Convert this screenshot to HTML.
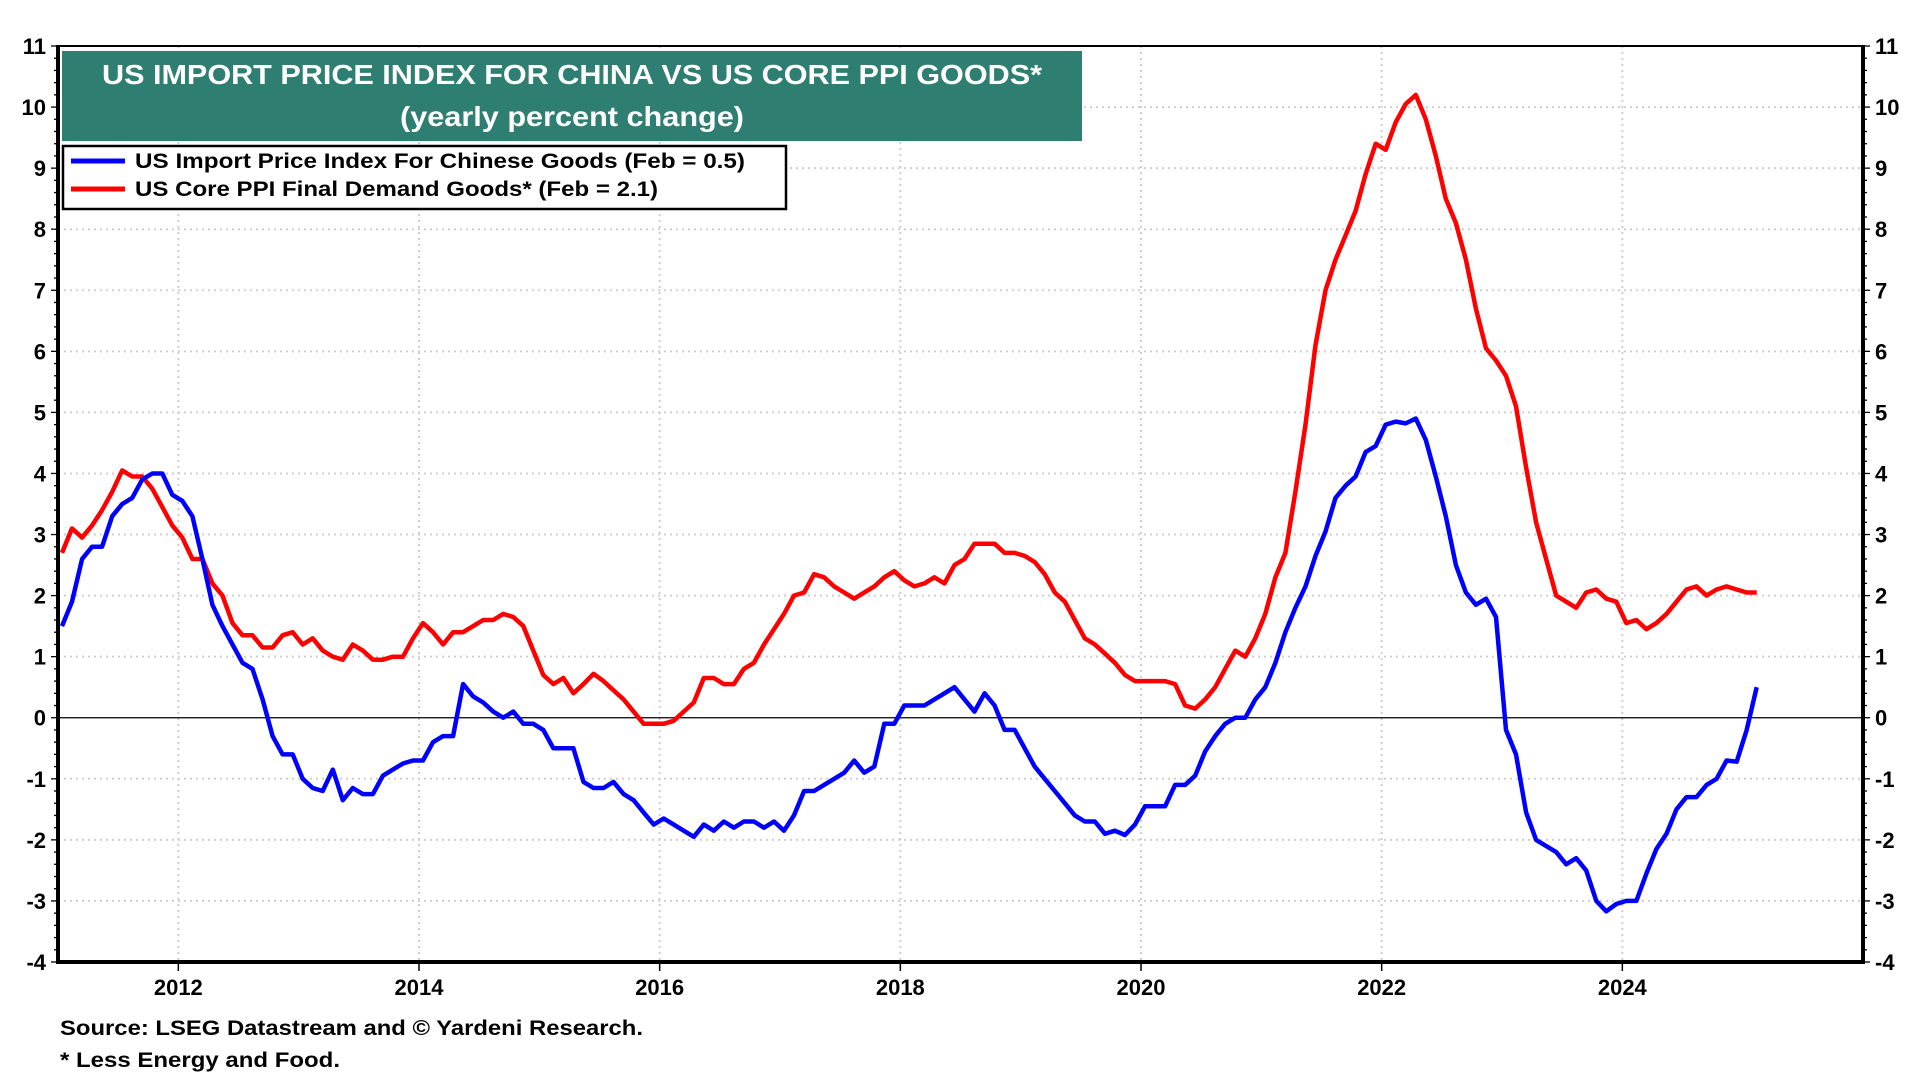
<!DOCTYPE html>
<html><head><meta charset="utf-8"><style>
html,body{margin:0;padding:0;background:#fff;}
svg{display:block;font-family:"Liberation Sans",Arial,sans-serif;font-weight:bold;}
</style></head><body>
<svg id="chart" width="1920" height="1080" viewBox="0 0 1920 1080" xmlns="http://www.w3.org/2000/svg"></svg>
<script>
const startYear = 2011;
const importChina = [
1.5,1.9,2.6,2.8,2.8,3.3,3.5,3.6,3.9,4.0,4.0,3.65,
3.55,3.3,2.6,1.85,1.5,1.2,0.9,0.8,0.3,-0.3,-0.6,-0.6,
-1.0,-1.15,-1.2,-0.85,-1.35,-1.15,-1.25,-1.25,-0.95,-0.85,-0.75,-0.7,
-0.7,-0.4,-0.3,-0.3,0.55,0.35,0.25,0.1,0.0,0.1,-0.1,-0.1,
-0.2,-0.5,-0.5,-0.5,-1.05,-1.15,-1.15,-1.05,-1.25,-1.35,-1.55,-1.75,
-1.65,-1.75,-1.85,-1.95,-1.75,-1.85,-1.7,-1.8,-1.7,-1.7,-1.8,-1.7,
-1.85,-1.6,-1.2,-1.2,-1.1,-1.0,-0.9,-0.7,-0.9,-0.8,-0.1,-0.1,
0.2,0.2,0.2,0.3,0.4,0.5,0.3,0.1,0.4,0.2,-0.2,-0.2,
-0.5,-0.8,-1.0,-1.2,-1.4,-1.6,-1.7,-1.7,-1.9,-1.85,-1.92,-1.75,
-1.45,-1.45,-1.45,-1.1,-1.1,-0.95,-0.55,-0.3,-0.1,0.0,0.0,0.3,
0.5,0.9,1.4,1.8,2.15,2.65,3.05,3.6,3.8,3.95,4.35,4.45,
4.8,4.85,4.82,4.9,4.55,3.95,3.3,2.5,2.05,1.85,1.95,1.65,
-0.2,-0.6,-1.55,-2.0,-2.1,-2.2,-2.4,-2.3,-2.5,-3.0,-3.17,-3.05,
-3.0,-3.0,-2.55,-2.15,-1.9,-1.5,-1.3,-1.3,-1.1,-1.0,-0.7,-0.72,
-0.2,0.5];
const corePPI = [
2.7,3.1,2.95,3.15,3.4,3.7,4.05,3.95,3.95,3.75,3.45,3.15,
2.95,2.6,2.6,2.2,2.0,1.55,1.35,1.35,1.15,1.15,1.35,1.4,
1.2,1.3,1.1,1.0,0.95,1.2,1.1,0.95,0.95,1.0,1.0,1.3,
1.55,1.4,1.2,1.4,1.4,1.5,1.6,1.6,1.7,1.65,1.5,1.1,
0.7,0.55,0.65,0.4,0.55,0.72,0.6,0.45,0.3,0.1,-0.1,-0.1,
-0.1,-0.05,0.1,0.25,0.65,0.65,0.55,0.55,0.8,0.9,1.2,1.45,
1.7,2.0,2.05,2.35,2.3,2.15,2.05,1.95,2.05,2.15,2.3,2.4,
2.25,2.15,2.2,2.3,2.2,2.5,2.6,2.85,2.85,2.85,2.7,2.7,
2.65,2.55,2.35,2.05,1.9,1.6,1.3,1.2,1.05,0.9,0.7,0.6,
0.6,0.6,0.6,0.55,0.2,0.15,0.3,0.5,0.8,1.1,1.0,1.3,
1.7,2.3,2.7,3.7,4.8,6.1,7.0,7.5,7.9,8.3,8.9,9.4,
9.3,9.75,10.05,10.2,9.8,9.2,8.5,8.1,7.5,6.7,6.05,5.85,
5.6,5.1,4.1,3.2,2.6,2.0,1.9,1.8,2.05,2.1,1.95,1.9,
1.55,1.6,1.45,1.55,1.7,1.9,2.1,2.15,2.0,2.1,2.15,2.1,
2.05,2.05];
const yTicks = [-4,-3,-2,-1,0,1,2,3,4,5,6,7,8,9,10,11];
const xTickYears = [2012,2014,2016,2018,2020,2022,2024];

const L=58, R=1863, T=46, B=962;
const x0=2011, x1=2026, y0=-4, y1=11;
const X = v => L + (v - x0) / (x1 - x0) * (R - L);
const Y = v => B - (v - y0) / (y1 - y0) * (B - T);
const NS = "http://www.w3.org/2000/svg";
const svg = document.getElementById('chart');
function mk(tag, attrs, parent){
  const e = document.createElementNS(NS, tag);
  for (const k in attrs) e.setAttribute(k, attrs[k]);
  (parent||svg).appendChild(e);
  return e;
}
const grid = mk('g', {});


yTicks.forEach(v => {
  if (v===y0 || v===y1 || v===0) return;
  mk('line', {x1:L, x2:R, y1:Y(v), y2:Y(v), stroke:'#cfcfcf', 'stroke-width':2, 'stroke-dasharray':'2 4'}, grid);
});
xTickYears.forEach(yr => {
  mk('line', {x1:X(yr), x2:X(yr), y1:T, y2:B, stroke:'#cfcfcf', 'stroke-width':2, 'stroke-dasharray':'2 4'}, grid);
});
const zl = mk('line', {x1:L, x2:R, y1:Y(0), y2:Y(0), stroke:'#000', 'stroke-width':1.3});



const axes = mk('g', {});


mk('rect', {x:L, y:T, width:R-L, height:B-T, fill:'none', stroke:'#000', 'stroke-width':2}, axes);
mk('line', {x1:L, x2:L, y1:T-1, y2:B+2, stroke:'#000', 'stroke-width':4}, axes);
mk('line', {x1:R, x2:R, y1:T-1, y2:B+2, stroke:'#000', 'stroke-width':4}, axes);
mk('line', {x1:L-1, x2:R+2, y1:B, y2:B, stroke:'#000', 'stroke-width':4}, axes);
for (let v=y0; v<=y1+0.001; v+=0.2){
  const major = Math.abs(v-Math.round(v))<0.01;
  const len = major?7:4;
  mk('line', {x1:L-len, x2:L, y1:Y(v), y2:Y(v), stroke:'#000', 'stroke-width':1.3}, axes);
  mk('line', {x1:R, x2:R+len, y1:Y(v), y2:Y(v), stroke:'#000', 'stroke-width':1.3}, axes);
}
yTicks.forEach(v => {
  const tl = mk('text', {x:L-12, y:Y(v)+8, 'text-anchor':'end', 'font-size':22}, axes);
  tl.textContent = v;
  
  
  const tr = mk('text', {x:R+12, y:Y(v)+8, 'text-anchor':'start', 'font-size':22}, axes);
  tr.textContent = v;
  
  
});
xTickYears.forEach(yr => {
  mk('line', {x1:X(yr), x2:X(yr), y1:B, y2:B+9, stroke:'#000', 'stroke-width':1.5}, axes);
  const t = mk('text', {x:X(yr), y:995, 'text-anchor':'middle', 'font-size':22}, axes);
  t.textContent = yr;
  
  
});

function series(vals, color, name){
  const pts = vals.map((v,i) => X(startYear + (i+0.4)/12).toFixed(1) + ',' + Y(v).toFixed(1)).join(' ');
  const p = mk('polyline', {points:pts, fill:'none', stroke:color, 'stroke-width':4.5, 'stroke-linejoin':'round'});
  
  
}
series(corePPI, '#ff0000', 'core-ppi-goods-line');
series(importChina, '#0000ff', 'import-price-china-line');

const tb = mk('g', {});


mk('rect', {x:62, y:51, width:1020, height:90, fill:'#2e7f72'}, tb);
const t1 = mk('text', {x:572, y:84, 'text-anchor':'middle', 'font-size':28, fill:'#fff', textLength:940, lengthAdjust:'spacingAndGlyphs'}, tb);
t1.textContent = 'US IMPORT PRICE INDEX FOR CHINA VS US CORE PPI GOODS*';


const t2 = mk('text', {x:572, y:126, 'text-anchor':'middle', 'font-size':28, fill:'#fff', textLength:344, lengthAdjust:'spacingAndGlyphs'}, tb);
t2.textContent = '(yearly percent change)';



const lg = mk('g', {});


mk('rect', {x:63, y:146, width:723, height:63, fill:'#fff', stroke:'#000', 'stroke-width':2.5}, lg);
mk('line', {x1:71, x2:125, y1:161, y2:161, stroke:'#0000ff', 'stroke-width':5}, lg);
mk('line', {x1:71, x2:125, y1:189, y2:189, stroke:'#ff0000', 'stroke-width':5}, lg);
const l1 = mk('text', {x:135, y:168, 'font-size':21, textLength:610, lengthAdjust:'spacingAndGlyphs'}, lg);
l1.textContent = 'US Import Price Index For Chinese Goods  (Feb = 0.5)';


const l2 = mk('text', {x:135, y:196, 'font-size':21, textLength:523, lengthAdjust:'spacingAndGlyphs'}, lg);
l2.textContent = 'US Core PPI Final Demand Goods* (Feb = 2.1)';



const s1 = mk('text', {x:60, y:1035, 'font-size':21, textLength:583, lengthAdjust:'spacingAndGlyphs'});
s1.textContent = 'Source: LSEG Datastream and \u00A9 Yardeni Research.';


const s2 = mk('text', {x:60, y:1067, 'font-size':21, textLength:280, lengthAdjust:'spacingAndGlyphs'});
s2.textContent = '* Less Energy and Food.';


</script>
</body></html>
